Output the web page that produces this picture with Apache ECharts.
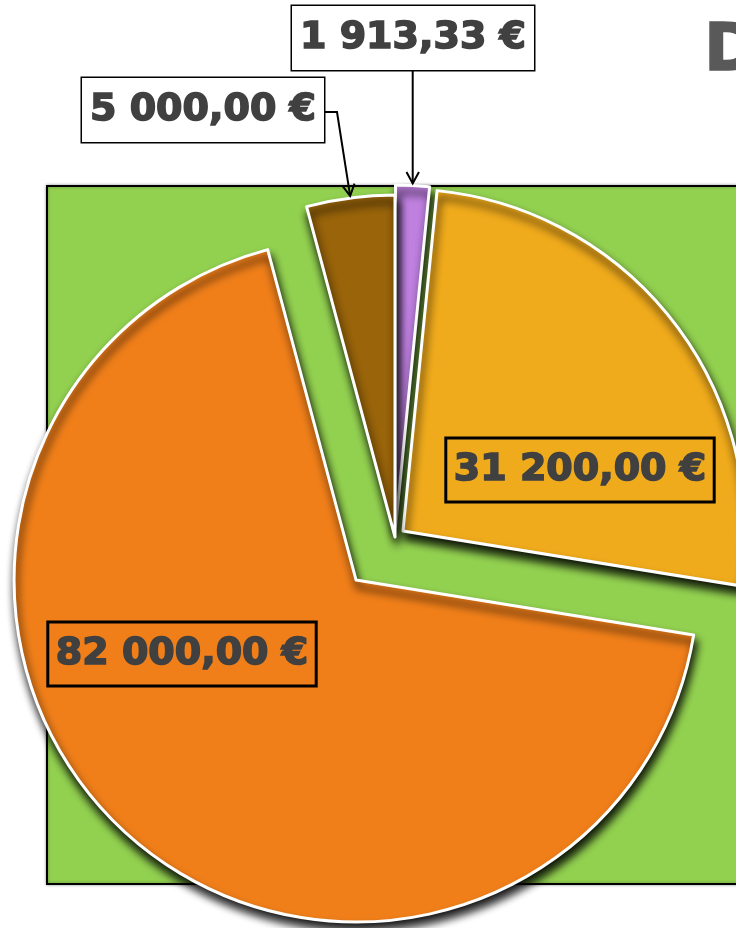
<!DOCTYPE html>
<html>
<head>
<meta charset="utf-8" />
<title>Pie</title>
<script src="https://cdn.jsdelivr.net/npm/echarts@6/dist/echarts.min.js"></script>
</head>
<body style="margin:0; background:#fff">
<div id="chart" style="width:736px; height:928px"></div>
<script type="text/javascript">
// values, clockwise from 12 o'clock
var names = ['Poste A', 'Poste B', 'Poste C', 'Poste D'];
var values = [1913.33, 31200, 82000, 5000];
var colors = ['#bf80e0', '#f0ab1c', '#f07f1a', '#99640a'];

// layout / style only
var explode = [10, 10, 58, 0];
var labelPos = [[413, 38], [580, 470], [182, 654], [203, 110]];
var labelBoxed = [true, false, false, true];   // white box outside the pie
var pieCenter = [395, 537];
var pieRadius = 342;

function fmt(v) {
  var p = v.toFixed(2).split('.');
  return p[0].replace(/\B(?=(\d{3})+(?!\d))/g, ' ') + ',' + p[1] + ' €';
}

var chart = echarts.init(document.getElementById('chart'));

// one pie per slice, so every slice can be pulled out by its own distance
var series = values.map(function (v0, k) {
  return {
    type: 'pie',
    center: pieCenter.slice(),
    radius: pieRadius,
    startAngle: 90,
    clockwise: true,
    animation: false,
    silent: true,
    z: 2 + k,
    labelLayout: function (params) {
      var p = labelPos[params.dataIndex];
      return { x: p[0], y: p[1], align: 'center', verticalAlign: 'middle' };
    },
    data: values.map(function (v, i) {
      var on = i === k;
      return {
        name: names[i],
        value: v,
        itemStyle: on ? {
          color: colors[i],
          borderColor: '#fff',
          borderWidth: 3,
          shadowColor: 'rgba(0,0,0,0.95)',
          shadowBlur: 9,
          shadowOffsetX: 2,
          shadowOffsetY: 7
        } : { color: 'transparent', borderWidth: 0, shadowBlur: 0, shadowColor: 'transparent' },
        label: {
          show: on,
          position: 'inside',
          formatter: fmt(v),
          fontFamily: 'DejaVu Sans',
          fontWeight: 'bold',
          fontSize: 38,
          lineHeight: 46,
          color: '#404040',
          textBorderColor: '#404040',
          textBorderWidth: 1.6,
          backgroundColor: labelBoxed[i] ? '#fff' : 'transparent',
          borderColor: '#000',
          borderWidth: 1.5,
          padding: [9, 8, 9, 8]
        },
        labelLine: { show: false }
      };
    })
  };
});

var option = {
  backgroundColor: '#fff',
  graphic: [
    {
      id: 'plotarea', type: 'rect', z: 0,
      shape: { x: 47, y: 186, width: 700, height: 698 },
      style: { fill: '#92d050', stroke: '#000', lineWidth: 2, shadowBlur: 3, shadowColor: 'rgba(0,0,0,0.35)' }
    },
    {
      id: 'title', type: 'text', z: 10, x: 704, y: 20,
      style: { text: 'D', font: 'bold 66px "DejaVu Sans"', fill: '#595959', textVerticalAlign: 'top',
               stroke: '#595959', lineWidth: 1.5 }
    }
  ],
  series: series
};
chart.setOption(option);

// pull every slice out along its own mid angle (angles from the pie layout)
function layoutOf(k) {
  return chart.getModel().getSeriesByIndex(k).getData().getItemLayout(k);
}
var moved = series.map(function (s, k) {
  var lay = layoutOf(k);
  var mid = (lay.startAngle + lay.endAngle) / 2;
  return { center: [pieCenter[0] + Math.cos(mid) * explode[k], pieCenter[1] + Math.sin(mid) * explode[k]] };
});
chart.setOption({ series: moved });

// leader arrows for the two small slices, aimed at the middle of their arc
function arcTip(i) {
  var lay = layoutOf(i);
  var mid = (lay.startAngle + lay.endAngle) / 2;
  var rr = lay.r + 2;
  return [lay.cx + Math.cos(mid) * rr, lay.cy + Math.sin(mid) * rr];
}

function arrow(id, pts) {
  var a = pts[pts.length - 1], b = pts[pts.length - 2];
  var ang = Math.atan2(a[1] - b[1], a[0] - b[0]);
  var len = 13, w = 0.5;
  var head = [
    [a[0] - len * Math.cos(ang - w), a[1] - len * Math.sin(ang - w)],
    a,
    [a[0] - len * Math.cos(ang + w), a[1] - len * Math.sin(ang + w)]
  ];
  return [
    { id: id + '_l', type: 'polyline', z: 10, shape: { points: pts }, style: { stroke: '#000', lineWidth: 2, fill: null } },
    { id: id + '_h', type: 'polyline', z: 10, shape: { points: head }, style: { stroke: '#000', lineWidth: 2, fill: null } }
  ];
}

var tip0 = arcTip(0);
var tip3 = arcTip(3);
var arrows = []
  .concat(arrow('a0', [[tip0[0], 70], tip0]))
  .concat(arrow('a3', [[325, 112], [337, 112], tip3]));
chart.setOption({ graphic: arrows });
</script>
</body>
</html>
